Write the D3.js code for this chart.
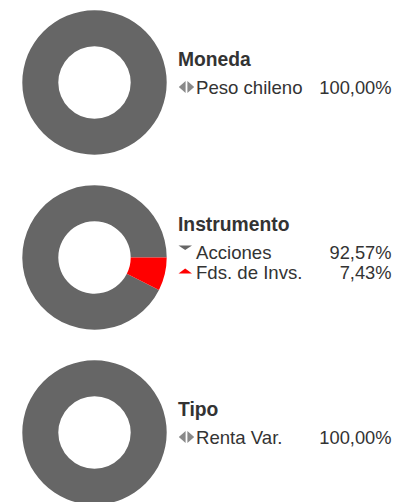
<!DOCTYPE html>
<html>
<head>
<meta charset="utf-8">
<script src="https://cdn.jsdelivr.net/npm/d3@7"></script>
<style>
  html, body { margin: 0; padding: 0; background: #fff; }
  svg { display: block; }
  text { font-family: "Liberation Sans", Arial, Helvetica, sans-serif; fill: #333; }
</style>
</head>
<body>
<svg id="chart" width="413" height="502"></svg>
<script>
// ---- data ----
const groupTitles = ["Moneda", "Instrumento", "Tipo"];

const monedaLabels = ["Peso chileno"];
const monedaValues = [100.00];
const monedaTrend = ["flat"];

const instrumentoLabels = ["Acciones", "Fds. de Invs."];
const instrumentoValues = [92.57, 7.43];
const instrumentoTrend = ["down", "up"];

const tipoLabels = ["Renta Var."];
const tipoValues = [100.00];
const tipoTrend = ["flat"];

// ---- styles ----
const sliceColors = ["#666666", "#ff0000"];
const groups = [
  { title: groupTitles[0], labels: monedaLabels, values: monedaValues, trend: monedaTrend },
  { title: groupTitles[1], labels: instrumentoLabels, values: instrumentoValues, trend: instrumentoTrend },
  { title: groupTitles[2], labels: tipoLabels, values: tipoValues, trend: tipoTrend }
];

const svg = d3.select("#chart");
const cx = 94.5, outerR = 72.2, innerR = 36.2;
const yScale = d3.scalePoint().domain(groupTitles).range([82.5, 432.5]);
const locale = d3.formatLocale({ decimal: ",", thousands: ".", grouping: [3], currency: ["", ""] });
const fmt = v => locale.format(".2f")(v) + "%";

const arc = d3.arc().innerRadius(innerR).outerRadius(outerR);

groups.forEach(g => {
  const cy = yScale(g.title);
  const total = d3.sum(g.values);
  const lastFrac = g.values[g.values.length - 1] / total;
  const start = g.values.length > 1 ? Math.PI / 2 + 2 * Math.PI * lastFrac : 0;
  const pie = d3.pie().sort(null).value(d => d).startAngle(start).endAngle(start + 2 * Math.PI);
  const gg = svg.append("g").attr("transform", `translate(${cx},${cy})`);
  gg.selectAll("path").data(pie(g.values)).join("path")
    .attr("d", arc)
    .attr("fill", (d, i) => sliceColors[i % sliceColors.length]);

  // legend
  const n = g.values.length;
  const firstRow = cy + 11 - 10 * (n - 1);
  svg.append("text")
    .attr("x", 178).attr("y", firstRow - 27.5)
    .attr("font-size", 19.3).attr("font-weight", "bold")
    .text(g.title);

  g.labels.forEach((lab, i) => {
    const by = firstRow + i * 20;
    const iy = by - 6.5;
    const t = g.trend[i];
    if (t === "flat") {
      svg.append("path")
        .attr("d", `M185.6,${iy - 6} L178.8,${iy} L185.6,${iy + 6} Z M187.4,${iy - 6} L194.2,${iy} L187.4,${iy + 6} Z`)
        .attr("fill", "#8a8a8a");
    } else if (t === "down") {
      svg.append("path")
        .attr("d", `M178.5,${iy - 6.5} L192,${iy - 6.5} L185.2,${iy - 2} Z`)
        .attr("fill", "#666666");
    } else {
      svg.append("path")
        .attr("d", `M178.5,${iy + 1.5} L192,${iy + 1.5} L185.2,${iy - 3.5} Z`)
        .attr("fill", "#ff0000");
    }
    svg.append("text")
      .attr("x", 196).attr("y", by)
      .attr("font-size", 18.6)
      .text(lab);
    svg.append("text")
      .attr("x", 391.5).attr("y", by)
      .attr("font-size", 18.3)
      .attr("text-anchor", "end")
      .text(fmt(g.values[i]));
  });
});
</script>
</body>
</html>
